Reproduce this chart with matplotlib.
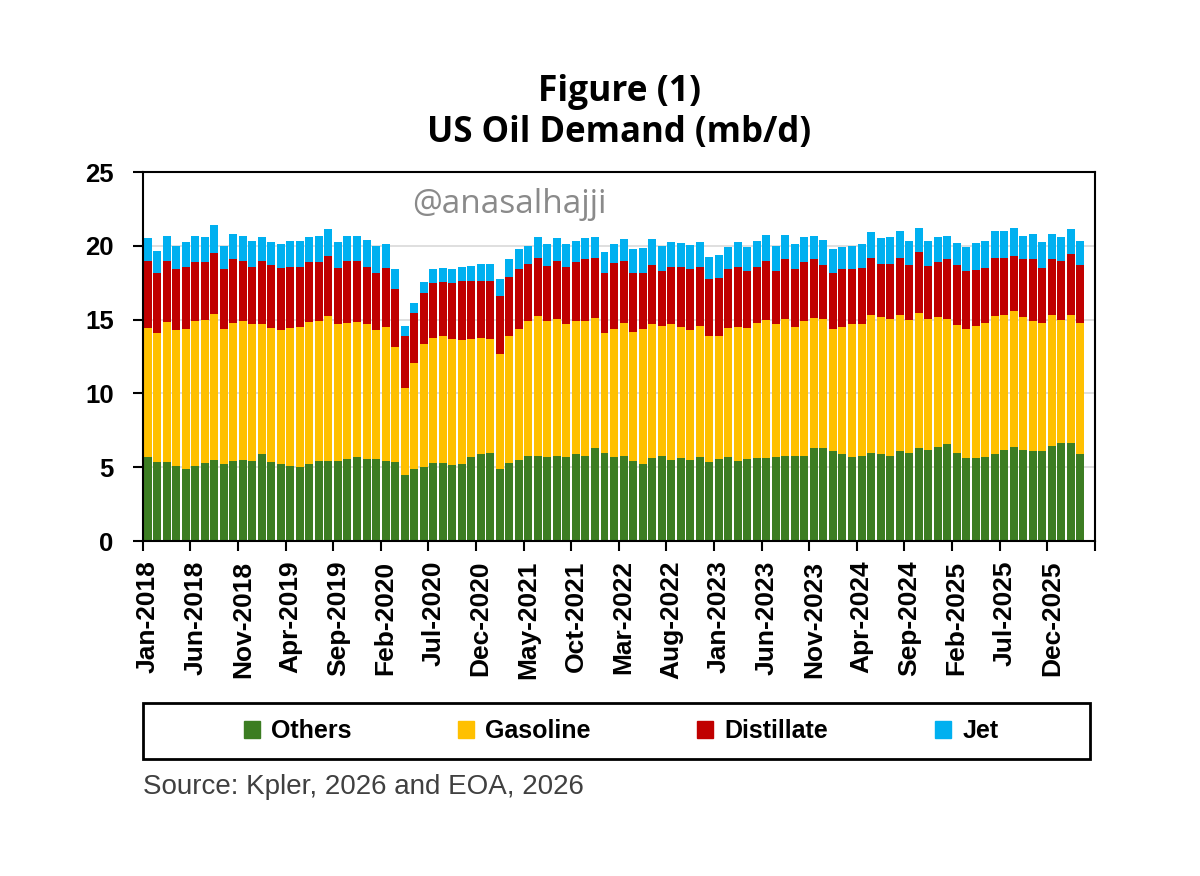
import numpy as np
import pandas as pd
import matplotlib
matplotlib.use("Agg")
import matplotlib.pyplot as plt
from matplotlib.patches import Rectangle, Patch

# monthly categories Jan-2018 .. Mar-2026 (one empty slot after, as on the source chart)
months = pd.date_range("2018-01-01", "2026-03-01", freq="MS").strftime("%b-%Y").tolist()

# mb/d
others = [5.71, 5.33, 5.33, 5.08, 4.86, 5.10, 5.31, 5.51, 5.22, 5.42, 5.51, 5.42, 5.89, 5.33, 5.20, 5.08, 5.03, 5.20, 5.42, 5.42,
          5.42, 5.56, 5.71, 5.56, 5.53, 5.42, 5.33, 4.47, 4.86, 5.03, 5.31, 5.31, 5.15, 5.22, 5.71, 5.89, 5.98, 4.86, 5.31, 5.49,
          5.78, 5.78, 5.67, 5.78, 5.71, 5.89, 5.78, 6.28, 5.98, 5.71, 5.78, 5.42, 5.22, 5.60, 5.78, 5.49, 5.60, 5.49, 5.71, 5.33,
          5.53, 5.71, 5.42, 5.53, 5.60, 5.60, 5.71, 5.78, 5.78, 5.78, 6.28, 6.28, 6.10, 5.89, 5.71, 5.78, 5.98, 5.89, 5.78, 6.10,
          5.98, 6.28, 6.17, 6.39, 6.57, 5.98, 5.64, 5.60, 5.71, 5.89, 6.17, 6.39, 6.17, 6.10, 6.10, 6.46, 6.66, 6.66, 5.89]
gasoline = [8.74, 8.79, 9.48, 9.22, 9.51, 9.83, 9.66, 9.85, 9.15, 9.33, 9.37, 9.26, 8.79, 9.08, 9.10, 9.37, 9.49, 9.61, 9.51, 9.82,
            9.26, 9.19, 9.10, 9.12, 8.77, 9.06, 7.79, 5.87, 7.22, 8.29, 8.47, 8.58, 8.54, 8.40, 7.98, 7.89, 7.71, 7.81, 8.58, 8.88,
            9.10, 9.46, 9.26, 9.24, 8.97, 9.04, 9.10, 8.85, 8.14, 8.66, 8.97, 8.76, 9.15, 9.08, 8.79, 9.19, 8.88, 8.81, 8.86, 8.56,
            8.36, 8.74, 9.10, 8.92, 9.15, 9.40, 8.97, 9.24, 8.74, 9.10, 8.85, 8.74, 8.27, 8.63, 8.97, 8.90, 9.33, 9.26, 9.28, 9.21,
            9.02, 9.14, 8.89, 8.76, 8.49, 8.66, 8.73, 8.97, 9.04, 9.35, 9.14, 9.21, 8.98, 8.83, 8.65, 8.85, 8.34, 8.65, 8.86]
distillate = [4.52, 4.01, 4.16, 4.10, 4.22, 3.95, 3.91, 4.13, 4.03, 4.33, 4.09, 3.91, 4.29, 4.29, 4.17, 4.14, 4.07, 4.07, 3.95, 4.05,
              3.79, 4.22, 4.16, 3.91, 3.88, 4.04, 3.93, 3.55, 3.34, 3.46, 3.68, 3.68, 3.77, 4.02, 3.95, 3.86, 3.95, 3.93, 4.02, 4.03,
              3.89, 3.91, 3.72, 3.95, 3.91, 3.95, 4.20, 4.02, 4.06, 4.44, 4.22, 4.00, 3.81, 4.02, 3.74, 3.91, 4.11, 4.10, 4.02, 3.84,
              3.91, 3.95, 4.07, 3.86, 3.84, 3.99, 3.63, 4.06, 3.88, 4.00, 3.95, 3.68, 3.81, 3.88, 3.72, 3.84, 3.84, 3.62, 3.71, 3.89,
              3.70, 4.14, 3.59, 3.73, 4.02, 4.06, 3.92, 3.79, 3.72, 3.96, 3.89, 3.73, 3.93, 4.15, 3.77, 3.77, 3.97, 4.13, 3.95]
jet = [1.53, 1.54, 1.72, 1.60, 1.64, 1.81, 1.74, 1.90, 1.60, 1.72, 1.72, 1.74, 1.63, 1.53, 1.65, 1.74, 1.74, 1.69, 1.81, 1.83,
       1.76, 1.72, 1.72, 1.80, 1.82, 1.60, 1.38, 0.68, 0.68, 0.75, 0.97, 0.95, 0.97, 0.95, 1.01, 1.13, 1.13, 1.13, 1.17, 1.36,
       1.23, 1.42, 1.47, 1.53, 1.53, 1.45, 1.42, 1.47, 1.38, 1.31, 1.47, 1.58, 1.69, 1.74, 1.69, 1.64, 1.58, 1.65, 1.64, 1.53,
       1.58, 1.54, 1.64, 1.63, 1.74, 1.72, 1.69, 1.63, 1.72, 1.69, 1.58, 1.69, 1.58, 1.54, 1.60, 1.60, 1.76, 1.73, 1.80, 1.80,
       1.63, 1.62, 1.68, 1.74, 1.61, 1.51, 1.65, 1.85, 1.86, 1.80, 1.80, 1.85, 1.61, 1.72, 1.71, 1.72, 1.65, 1.68, 1.65]

series = [("Others", others, "#3c7d22"),
          ("Gasoline", gasoline, "#ffc000"),
          ("Distillate", distillate, "#c00000"),
          ("Jet", jet, "#00b0f0")]

fig = plt.figure(figsize=(12, 8.76), dpi=100)
ax = fig.add_axes([0.119, 0.3824, 0.7933, 0.4212])

x = np.arange(len(months))
bottom = np.zeros(len(months))
for name, vals, col in series:
    ax.bar(x, vals, width=0.84, bottom=bottom, color=col, zorder=2)
    bottom += np.array(vals)

ax.set_xlim(-0.5, len(months) + 0.5)
ax.set_ylim(0, 25)
ax.set_yticks([0, 5, 10, 15, 20, 25])
ax.yaxis.grid(True, color="#d9d9d9", lw=1.2, zorder=0)
ax.set_axisbelow(True)

lab_pos = x[::5]
ax.set_xticks(lab_pos, [months[i] for i in lab_pos], rotation=90)
ax.set_xticks(np.arange(-0.5, len(months) + 1, 5), minor=True)
ax.tick_params(axis="x", which="major", length=0, pad=14)
ax.tick_params(axis="x", which="minor", length=7, width=1.5, direction="out")
ax.tick_params(axis="y", length=7, width=1.5, direction="out", pad=14)
for lab in ax.get_xticklabels():
    lab.set_fontfamily("Liberation Sans")
    lab.set_fontweight("bold")
    lab.set_fontsize(19)
for lab in ax.get_yticklabels():
    lab.set_fontfamily("Liberation Sans")
    lab.set_fontweight("bold")
    lab.set_fontsize(18.5)
for s in ax.spines.values():
    s.set_linewidth(1.5)
    s.set_color("black")

fig.text(0.516, 1 - 101 / 876, "Figure (1)", ha="center", va="baseline",
         fontsize=25.5, fontweight="bold", family="Open Sans")
fig.text(0.516, 1 - 142 / 876, "US Oil Demand (mb/d)", ha="center", va="baseline",
         fontsize=25, fontweight="bold", family="Open Sans")
fig.text(412 / 1200, 1 - 213 / 876, "@anasalhajji", ha="left", va="baseline",
         fontsize=24, color="#8a8a8a", family="Open Sans")

# legend box
fig.patches.append(Rectangle((143 / 1200, 1 - 759 / 876), 947 / 1200, 56 / 876,
                             transform=fig.transFigure, fill=False, lw=2, ec="black"))
handles = [Patch(color=col, label=name) for name, vals, col in series]
fig.legend(handles=handles, loc="center", bbox_to_anchor=(621 / 1200, 1 - 731 / 876),
           ncol=4, frameon=False, handlelength=0.65, handleheight=0.65, handletextpad=0.45,
           columnspacing=4.25, prop={"family": "Liberation Sans", "weight": "bold", "size": 18})

fig.text(143 / 1200, 1 - 794 / 876, "Source: Kpler, 2026 and EOA, 2026", ha="left", va="baseline",
         fontsize=20, color="#404040", family="Liberation Sans")

fig.savefig("out.png", dpi=100)
